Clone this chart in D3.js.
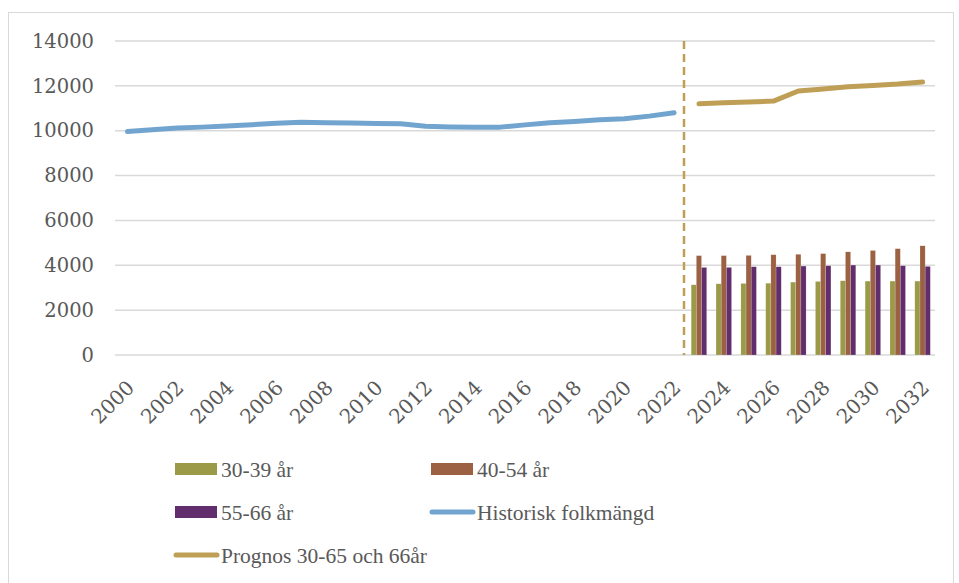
<!DOCTYPE html>
<html>
<head>
<meta charset="utf-8">
<script src="https://cdn.jsdelivr.net/npm/d3@7"></script>
<style>
  body { margin: 0; background: #fff; }
  svg { display: block; }
</style>
</head>
<body>
<svg width="959" height="583"></svg>
<script>
// years on the category axis
const years = d3.range(2000, 2033).map(String);
const tickYears = years.filter((d, i) => i % 2 === 0);
const yTicks = [0, 2000, 4000, 6000, 8000, 10000, 12000, 14000];

// historical population 2000-2022
const histYears = d3.range(2000, 2023).map(String);
const histValues = [9960, 10040, 10120, 10160, 10210, 10270, 10330, 10380, 10360, 10340, 10320, 10310,
                    10200, 10170, 10150, 10160, 10260, 10350, 10410, 10490, 10530, 10650, 10800];

// forecast 2023-2032
const progYears = d3.range(2023, 2033).map(String);
const progValues = [11200, 11250, 11280, 11320, 11770, 11860, 11960, 12020, 12080, 12170];

// age groups (bars), 2023-2032
const ageGroups = ["30-39 år", "40-54 år", "55-66 år"];
const age3039 = [3130, 3175, 3190, 3200, 3250, 3280, 3310, 3295, 3295, 3295];
const age4054 = [4430, 4430, 4440, 4470, 4490, 4520, 4600, 4660, 4740, 4870];
const age5566 = [3905, 3905, 3935, 3935, 3965, 3980, 4010, 4010, 3980, 3950];

const colors = {
  "30-39 år": "#9a9a48",
  "40-54 år": "#9b6142",
  "55-66 år": "#622d6c",
  hist: "#71a5d0",
  prog: "#bf9f55"
};

let svg = d3.select("svg");
const tickFont = "'DejaVu Serif', serif";
const legFont = "'Liberation Serif', serif";
const txt = "#595959";

// outer frame
svg.append("rect")
   .attr("x", 8.5).attr("y", 12.5)
   .attr("width", 945).attr("height", 600)
   .attr("fill", "none")
   .attr("stroke", "#d9d9d9");

let x = d3.scaleBand().domain(years).range([115, 935]).padding(0);
let y = d3.scaleLinear().domain([0, 14000]).range([355, 41]);

// gridlines
svg.append("g")
   .selectAll("line")
   .data(yTicks)
   .enter()
   .append("line")
   .attr("x1", 115).attr("x2", 935)
   .attr("y1", d => y(d)).attr("y2", d => y(d))
   .attr("stroke", "#d9d9d9")
   .attr("stroke-width", 1.5);

// y axis labels
let yAxis = svg.append("g")
   .attr("transform", "translate(94,0)")
   .call(d3.axisLeft(y).tickValues(yTicks).tickSize(0).tickPadding(0).tickFormat(d3.format("d")));
yAxis.select(".domain").remove();
yAxis.selectAll("text")
   .attr("font-family", tickFont)
   .attr("font-size", 19.5)
   .attr("fill", txt);

// x axis labels, rotated
let xAxis = svg.append("g")
   .attr("transform", "translate(0,355)")
   .call(d3.axisBottom(x).tickValues(tickYears).tickSize(0).tickPadding(0));
xAxis.select(".domain").remove();
xAxis.selectAll("text")
   .attr("font-family", tickFont)
   .attr("font-size", 20)
   .attr("fill", txt)
   .attr("text-anchor", "end")
   .attr("dy", 0)
   .attr("transform", "translate(8,34) rotate(-45)");

// bars
let barData = progYears.map((yr, i) => ({
  year: yr,
  vals: [
    { key: ageGroups[0], v: age3039[i] },
    { key: ageGroups[1], v: age4054[i] },
    { key: ageGroups[2], v: age5566[i] }
  ]
}));
let groupW = 15.5;
let xs = d3.scaleBand().domain(ageGroups).range([0, groupW]).padding(0);

svg.append("g")
   .selectAll("g")
   .data(barData)
   .enter()
   .append("g")
   .attr("transform", d => "translate(" + (x(d.year) + (x.bandwidth() - groupW) / 2) + ",0)")
   .selectAll("rect")
   .data(d => d.vals)
   .enter()
   .append("rect")
   .attr("x", d => xs(d.key))
   .attr("width", xs.bandwidth())
   .attr("y", d => y(d.v))
   .attr("height", d => y(0) - y(d.v))
   .attr("fill", d => colors[d.key])
   .attr("stroke", "#fff")
   .attr("stroke-opacity", 0.35)
   .attr("stroke-width", 0.5);

// dashed divider between history and forecast
svg.append("line")
   .attr("x1", x("2023") - 2.5).attr("x2", x("2023") - 2.5)
   .attr("y1", y(14000)).attr("y2", y(0))
   .attr("stroke", colors.prog)
   .attr("stroke-width", 2.5)
   .attr("stroke-dasharray", "8,5");

let line = d3.line()
   .x(d => x(d[0]) + x.bandwidth() / 2)
   .y(d => y(d[1]));

svg.append("path")
   .datum(histYears.map((d, i) => [d, histValues[i]]))
   .attr("d", line)
   .attr("fill", "none")
   .attr("stroke", colors.hist)
   .attr("stroke-width", 5)
   .attr("stroke-linecap", "round")
   .attr("stroke-linejoin", "round");

svg.append("path")
   .datum(progYears.map((d, i) => [d, progValues[i]]))
   .attr("d", line)
   .attr("fill", "none")
   .attr("stroke", colors.prog)
   .attr("stroke-width", 5)
   .attr("stroke-linecap", "round")
   .attr("stroke-linejoin", "round");

// legend
const legend = [
  { label: "30-39 år", type: "bar", color: colors["30-39 år"], lx: 175, ly: 469 },
  { label: "40-54 år", type: "bar", color: colors["40-54 år"], lx: 431, ly: 469 },
  { label: "55-66 år", type: "bar", color: colors["55-66 år"], lx: 175, ly: 512 },
  { label: "Historisk folkmängd", type: "line", color: colors.hist, lx: 431, ly: 512 },
  { label: "Prognos 30-65 och 66år", type: "line", color: colors.prog, lx: 175, ly: 555 }
];

let lg = svg.append("g")
   .selectAll("g")
   .data(legend)
   .enter()
   .append("g")
   .attr("transform", d => "translate(" + d.lx + "," + d.ly + ")");

lg.filter(d => d.type === "bar")
  .append("rect")
  .attr("x", 0).attr("y", -6)
  .attr("width", 42).attr("height", 12)
  .attr("fill", d => d.color);

lg.filter(d => d.type === "line")
  .append("line")
  .attr("x1", 1).attr("x2", 42)
  .attr("y1", 0).attr("y2", 0)
  .attr("stroke", d => d.color)
  .attr("stroke-width", 5)
  .attr("stroke-linecap", "round");

lg.append("text")
  .attr("x", 46)
  .attr("y", 7.5)
  .attr("font-family", legFont)
  .attr("font-size", 21.5)
  .attr("fill", txt)
  .text(d => d.label);
</script>
</body>
</html>
